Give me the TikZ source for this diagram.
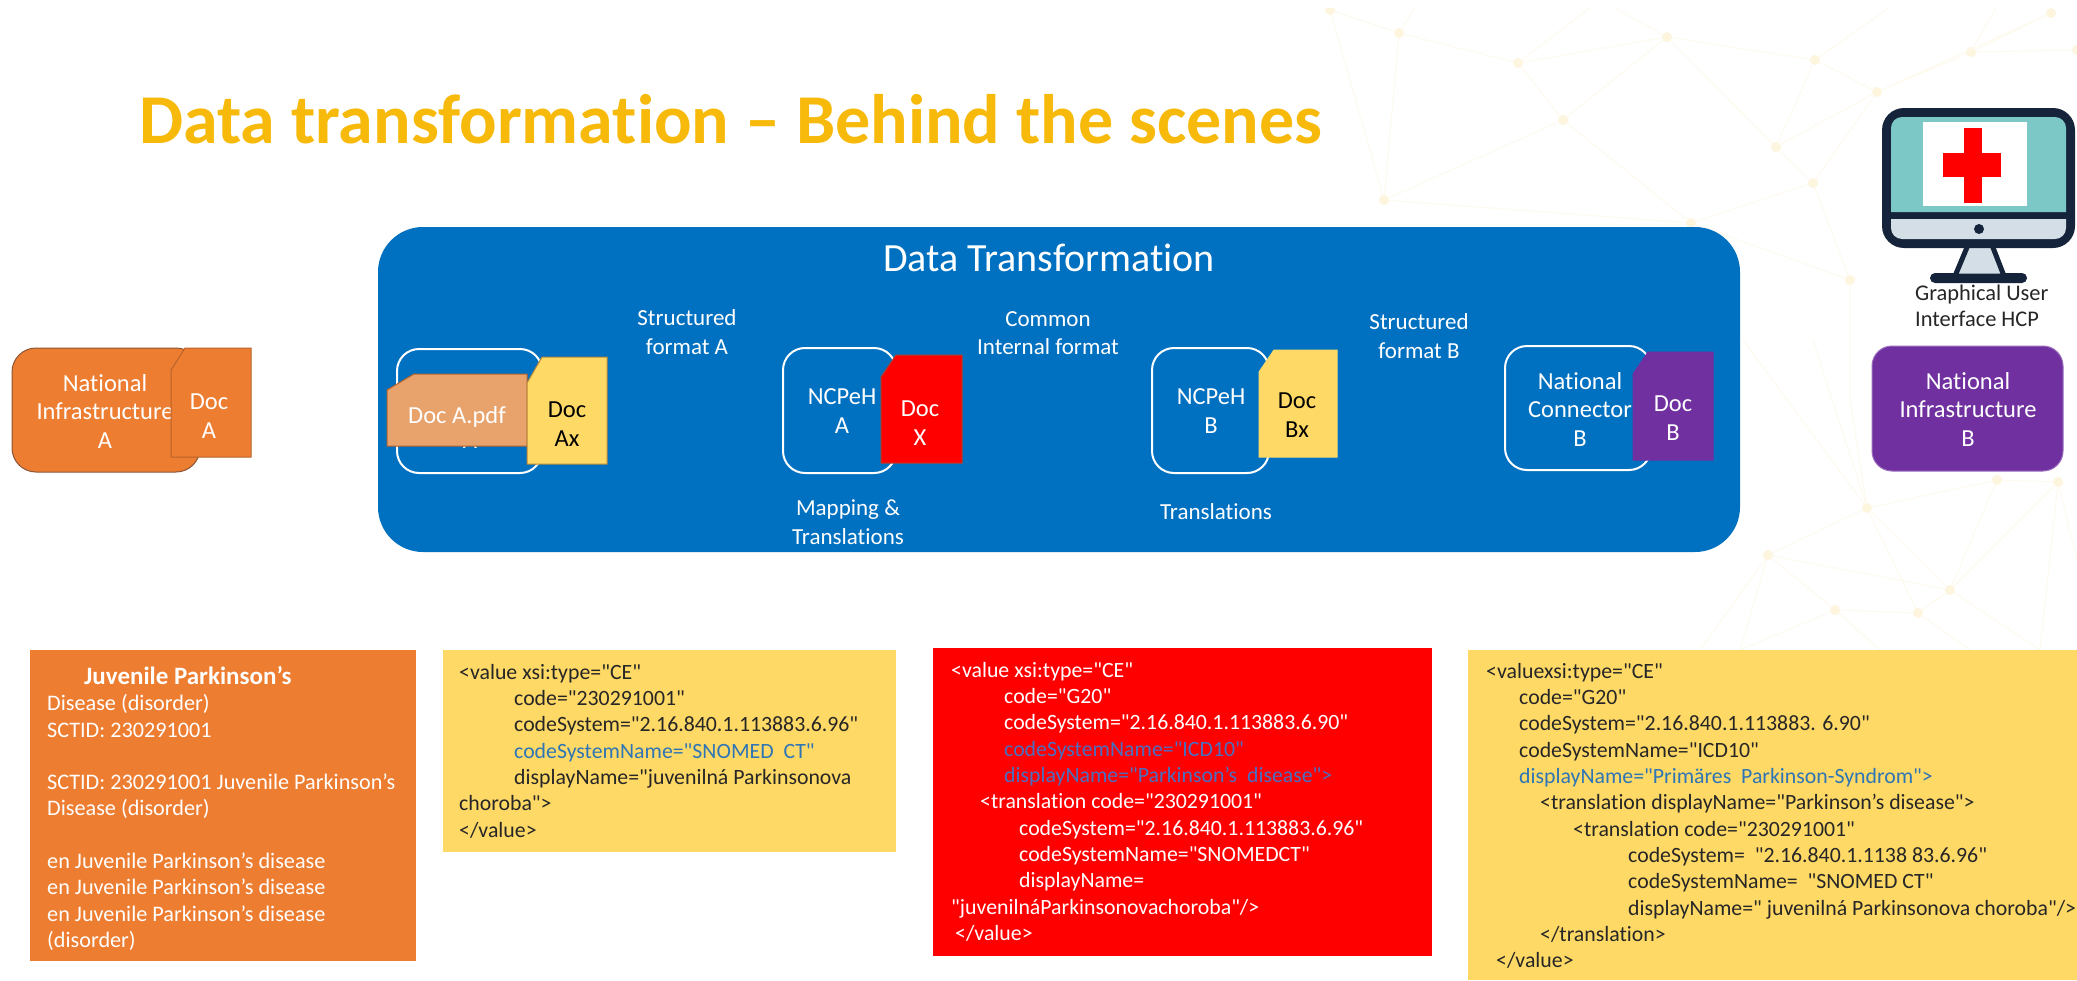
\documentclass[tikz,border=0pt]{standalone}
\usepackage{fontspec}
\setmainfont[Ligatures={TeXOff,NoCommon}]{Carlito}
\definecolor{ttl}{HTML}{F7B90A}
\definecolor{bigblue}{HTML}{0070C0}
\definecolor{orng}{HTML}{ED7D31}
\definecolor{orngdk}{HTML}{B9622A}
\definecolor{pdf}{HTML}{E8A26C}
\definecolor{ylw}{HTML}{FFD966}
\definecolor{ylwdk}{HTML}{B8863A}
\definecolor{prpl}{HTML}{7030A0}
\definecolor{redb}{HTML}{FF0000}
\definecolor{reddk}{HTML}{B04030}
\definecolor{navy}{HTML}{15233B}
\definecolor{teal}{HTML}{7CC8C6}
\definecolor{scrgray}{HTML}{D3DEE6}
\definecolor{mesh}{HTML}{FEFAEE}
\definecolor{meshdot}{HTML}{FDF5DE}
\definecolor{blueY}{HTML}{2E75B6}
\definecolor{blueR}{HTML}{4A6FC0}
\definecolor{inkk}{HTML}{262626}
\tikzset{
  x=1pt,y=-1pt,
  lbl/.style={align=center,inner sep=0pt,text=white,font=\fontsize{23}{28.5}\selectfont},
  boxlbl/.style={lbl,font=\fontsize{24.5}{28.5}\selectfont},
  boxlblk/.style={boxlbl,text=black},
  holder/.style={draw=white,line width=2pt,rounded corners=22pt},
  snip/.style={line width=1pt},
  code/.style={anchor=north west,align=left,inner sep=0pt,font=\fontsize{21.8}{26.3}\selectfont},
  pane/.style={inner sep=0pt},
  meshline/.style={draw=mesh,line width=1pt},
  meshpt/.style={circle,fill=meshdot,inner sep=0pt,minimum size=10pt}
}
\newcommand{\snipdoc}[8]{% x1 y1 x2 y2 dx dy fill draw
  \path[snip,fill=#7,draw=#8] (#1+#5,#2) -- (#3,#2) -- (#3,#4) -- (#1,#4) -- (#1,#2+#6) -- cycle;}
\begin{document}
\begin{tikzpicture}
\useasboundingbox (0,0) rectangle (2077,980);
\fill[white] (0,0) rectangle (2077,980);
% background mesh
\begin{scope}
\clip (1300,8) rectangle (2077,650);
\foreach \n/\a/\b in {a/1330/10,b/1399/33,c/1518/63,d/1667/37,e/1563/120,f/1384/200,g/1815/60,h/1877/92,i/1971/52,j/1776/147,k/1813/183,l/1691/223,m/1850/280,n/2051/13,o/2077/50,p/1867/508,q/1768/555,r/1835/610,s/1918/613,t/1950/590,u/1997/480,v/2058/482}
  \node[meshpt] (m\n) at (\a,\b) {};
\coordinate (t1) at (1420,0); \coordinate (t2) at (1600,0); \coordinate (t3) at (1900,0);
\coordinate (t4) at (2000,0); \coordinate (b1) at (1740,650); \coordinate (b2) at (1880,650);
\coordinate (b3) at (1970,650); \coordinate (b4) at (2040,650); \coordinate (b5) at (1743,340);
\coordinate (b6) at (1813,340); \coordinate (b7) at (1700,650); \coordinate (b8) at (2077,560);
\coordinate (b9) at (1850,400);
\draw[meshline] (ma)--(mb)--(mc)--(md)--(mg)--(mh)--(mi)--(mo)
  (ma)--(mf)--(mb) (mf)--(me)--(mc) (me)--(md) (mf)--(ml)--(me)
  (md)--(mj)--(mk)--(mh) (mj)--(mg) (mk)--(ml) (mk)--(mm) (ml)--(mm) (mj)--(mh)
  (mi)--(mn) (mh)--(mn) (mi)--(t4) (mg)--(t3) (md)--(t2) (mc)--(t2) (mb)--(t1)
  (mm)--(b9)--(mp)--(mq)--(mr)--(ms)--(mt)--(mp) (mp)--(mu)--(mv)--(mt) (mu)--(mt) (mp)--(ms)
  (mq)--(mt) (b5)--(mp) (b6)--(mp) (mq)--(b1) (mr)--(b2) (mr)--(b1) (ms)--(b3) (mt)--(b4) (mv)--(b4) (mv)--(b8) (mq)--(b7);
\end{scope}
% title
\node[anchor=base west,inner sep=0pt,text=ttl,font={\bfseries\fontsize{70}{70}\selectfont}] (title) at (139,143) {Data transformation – Behind the scenes};
% left infrastructure
\path[fill=orng,draw=navy!45!orng,line width=1pt,rounded corners=24pt] (12,348) rectangle (200,472);
\node[boxlbl] (infa) at (105,411) {National\\Infrastructure\\A};
\snipdoc{171}{348}{251}{457}{14}{22}{orng}{orngdk}
\node[boxlbl] (doca) at (209,416) {Doc\\A};
% main box
\path[fill=bigblue,rounded corners=45pt] (378,227) rectangle (1740,552);
\node[lbl,font=\fontsize{40}{40}\selectfont] (dt) at (1049,258) {Data Transformation};
\node[lbl] (sfa) at (687,332) {Structured\\format A};
\node[lbl] (cif) at (1048,333) {Common\\Internal format};
\node[lbl] (sfb) at (1419,336) {Structured\\format B};
\node[lbl] (mt) at (848,522) {Mapping \&\\Translations};
\node[lbl] (tr) at (1216,512) {Translations};
% holders
\path[holder] (397,349) rectangle (542,473);
\node[boxlbl] (hiddenA) at (470,441) {A};
\snipdoc{387}{374}{527}{446}{27}{16}{pdf}{orngdk}
\node[boxlbl] (pdfn) at (457,417) {Doc A.pdf};
\snipdoc{527}{357}{607}{464}{15}{26}{ylw}{ylwdk}
\node[boxlblk] (docax) at (567,424) {Doc\\Ax};
\path[holder] (783,348) rectangle (896,473);
\node[boxlbl] (ncpa) at (842,411) {NCPeH\\A};
\snipdoc{881}{355}{962}{463}{15}{22}{redb}{reddk}
\node[boxlbl] (docx) at (920,423) {Doc\\X};
\path[holder] (1152,348) rectangle (1269,473);
\node[boxlbl] (ncpb) at (1211,411) {NCPeH\\B};
\snipdoc{1259}{350}{1337}{457}{15}{22}{ylw}{ylw}
\node[boxlblk] (docbx) at (1297,415) {Doc\\Bx};
\path[holder] (1505,346) rectangle (1651,470);
\node[boxlbl] (ncb) at (1580,409) {National\\Connector\\B};
\snipdoc{1633}{352}{1713}{460}{15}{22}{prpl}{prpl}
\node[boxlbl] (docb) at (1673,418) {Doc\\B};
% right infrastructure
\path[fill=prpl,draw=prpl!70!white,line width=1pt,rounded corners=20pt] (1872,346) rectangle (2063,471);
\node[boxlbl] (infb) at (1968,409) {National\\Infrastructure\\B};
% monitor
\path[fill=navy,rounded corners=5pt] (1930,273) rectangle (2027,283);
\path[fill=scrgray,draw=navy,line width=5pt] (1968,245) -- (1955,276) -- (2004,276) -- (1992,245) -- cycle;
\path[fill=navy,rounded corners=22pt] (1882,108) rectangle (2075,248);
\path[fill=teal,rounded corners=11pt] (1891,212) -- (1891,117) -- (2066,117) -- (2066,212);
\path[fill=white] (1923,122) rectangle (2027,206);
\path[fill=redb] (1964,128) rectangle (1982,203);
\path[fill=redb] (1943,153) rectangle (2001,177);
\path[fill=scrgray,rounded corners=11pt] (1891,219) -- (1891,239) -- (2066,239) -- (2066,219);
\fill[navy] (1979,229) circle (5);
\node[lbl,text=inkk,align=left,anchor=north west,font=\fontsize{22.4}{26}\selectfont] (gui) at (1915,285) {Graphical User\\Interface HCP};
% bottom panes
\path[pane,fill=orng] (30,650) rectangle (416,961);
\node[code,text=white,font=\fontsize{22.2}{26.3}\selectfont] (pa) at (47,666) {\hspace*{37pt}\textbf{\fontsize{25}{26.3}\selectfont Juvenile Parkinson’s}\\
Disease (disorder)\\
SCTID: 230291001\\
\mbox{}\\
SCTID: 230291001 Juvenile Parkinson’s\\
Disease (disorder)\\
\mbox{}\\
en Juvenile Parkinson’s disease\\
en Juvenile Parkinson’s disease\\
en Juvenile Parkinson’s disease\\
(disorder)};
\path[pane,fill=ylw] (443,650) rectangle (896,852);
\node[code,text=inkk] (pb) at (459,664) {<value xsi:type="CE"\\
\hspace*{55pt}code="230291001"\\
\hspace*{55pt}codeSystem="2.16.840.1.113883.6.96"\\
\hspace*{55pt}\textcolor{blueY}{codeSystemName="SNOMED\ \ CT"}\\
\hspace*{55pt}displayName="juvenilná Parkinsonova\\
choroba">\\
</value>};
\path[pane,fill=redb] (933,648) rectangle (1432,956);
\node[code,text=white] (pc) at (951,662) {<value xsi:type="CE"\\
\hspace*{53pt}code="G20"\\
\hspace*{53pt}codeSystem="2.16.840.1.113883.6.90"\\
\hspace*{53pt}\textcolor{blueR}{codeSystemName="ICD10"}\\
\hspace*{53pt}\textcolor{blueR}{displayName="Parkinson’s\ \ disease">}\\
\hspace*{29pt}<translation code="230291001"\\
\hspace*{68pt}codeSystem="2.16.840.1.113883.6.96"\\
\hspace*{68pt}codeSystemName="SNOMEDCT"\\
\hspace*{68pt}displayName=\\
"juvenilnáParkinsonovachoroba"/>\\
\hspace*{4pt}</value>};
\path[pane,fill=ylw] (1468,650) rectangle (2077,980);
\node[code,text=inkk] (pd) at (1486,663) {<valuexsi:type="CE"\\
\hspace*{33pt}code="G20"\\
\hspace*{33pt}codeSystem="2.16.840.1.113883. 6.90"\\
\hspace*{33pt}codeSystemName="ICD10"\\
\hspace*{33pt}\textcolor{blueY}{displayName="Primäres\ \ Parkinson-Syndrom">}\\
\hspace*{54pt}<translation displayName="Parkinson’s disease">\\
\hspace*{87pt}<translation code="230291001"\\
\hspace*{142pt}codeSystem=\ \ "2.16.840.1.1138 83.6.96"\\
\hspace*{142pt}codeSystemName=\ \ "SNOMED CT"\\
\hspace*{142pt}displayName=" juvenilná Parkinsonova choroba"/>\\
\hspace*{54pt}</translation>\\
\hspace*{10pt}</value>};
\end{tikzpicture}
\end{document}
